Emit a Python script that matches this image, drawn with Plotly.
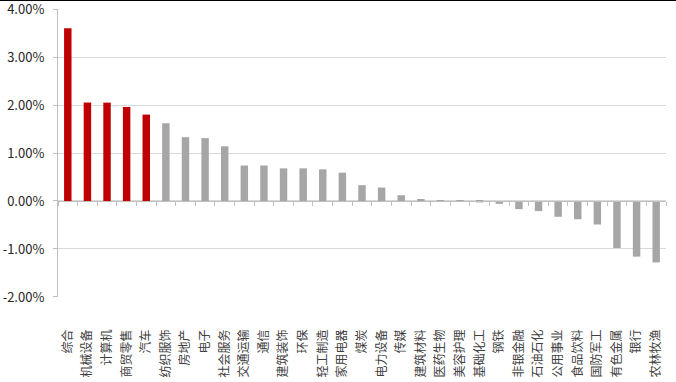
import plotly.graph_objects as go

categories = ["综合", "机械设备", "计算机", "商贸零售", "汽车", "纺织服饰", "房地产", "电子",
              "社会服务", "交通运输", "通信", "建筑装饰", "环保", "轻工制造", "家用电器", "煤炭",
              "电力设备", "传媒", "建筑材料", "医药生物", "美容护理", "基础化工", "钢铁", "非银金融",
              "石油石化", "公用事业", "食品饮料", "国防军工", "有色金属", "银行", "农林牧渔"]
returns_pct = [3.60, 2.05, 2.05, 1.96, 1.80, 1.62, 1.33, 1.31, 1.14, 0.74, 0.74, 0.68, 0.68,
               0.66, 0.59, 0.33, 0.28, 0.12, 0.04, 0.02, 0.02, -0.03, -0.06, -0.17, -0.21,
               -0.33, -0.38, -0.49, -0.98, -1.16, -1.28]
y_ticks = [-2, -1, 0, 1, 2, 3, 4]
y_tick_labels = [f"{v:.2f}%" for v in y_ticks]

top_n = 5
colors = ["#C00000" if i < top_n else "#A6A6A6" for i in range(len(categories))]

font_family = "Noto Sans CJK SC, Noto Sans, sans-serif"
n = len(categories)
x_range = [-0.5, n - 0.5]

fig = go.Figure()
fig.add_trace(go.Bar(x=categories, y=returns_pct, marker=dict(color=colors, line=dict(width=0)),
                     hoverinfo="x+y"))
# helper trace for the zero-line axis with tick marks
fig.add_trace(go.Scatter(x=categories, y=[0] * n, xaxis="x2", mode="markers",
                         marker=dict(opacity=0, size=1), hoverinfo="skip", showlegend=False))

fig.update_layout(
    width=676, height=382,
    margin=dict(l=58, r=10, t=9, b=85, autoexpand=False),
    paper_bgcolor="white", plot_bgcolor="white",
    bargap=0.62,
    showlegend=False,
    font=dict(family=font_family, color="#404040"),
    xaxis=dict(
        type="category", categoryorder="array", categoryarray=categories,
        range=x_range, automargin=False,
        tickangle=-90, showline=False, showgrid=False, zeroline=False,
        ticks="", ticklabelstandoff=29,
        tickfont=dict(size=12, color="#404040", family=font_family),
    ),
    xaxis2=dict(
        type="category", categoryorder="array", categoryarray=categories,
        overlaying="x", anchor="free", position=1/3, range=x_range, automargin=False,
        showline=True, linecolor="#BFBFBF", linewidth=1,
        ticks="outside", tickson="boundaries", ticklen=4, tickcolor="#BFBFBF",
        showticklabels=False, showgrid=False, zeroline=False,
    ),
    yaxis=dict(
        range=[-2.001, 4.001], tickvals=y_ticks, ticktext=y_tick_labels, automargin=False,
        showgrid=True, gridcolor="#D9D9D9", gridwidth=1,
        zeroline=False, showline=True, linecolor="#BFBFBF", linewidth=1,
        ticks="outside", ticklen=4, tickcolor="#BFBFBF",
        ticklabelstandoff=6, ticklabeloverflow="allow",
        tickfont=dict(size=13, color="#262626", family=font_family),
    ),
    shapes=[dict(type="line", xref="paper", yref="paper", x0=-58/608, x1=1 + 10/608,
                 y0=1 + 8.5/288, y1=1 + 8.5/288, line=dict(color="black", width=1))],
)

fig.write_html("out.html", config={"displayModeBar": False},
               post_script="document.body.style.margin='0';document.body.style.overflow='hidden';")
